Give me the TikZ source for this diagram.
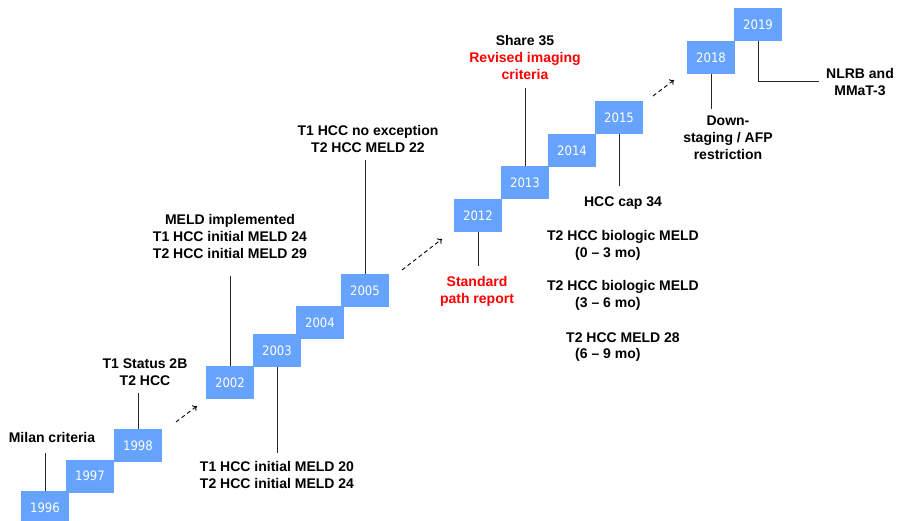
\documentclass[tikz,border=0pt]{standalone}
\usepackage{fontspec}
\setmainfont{Liberation Sans}
\newfontfamily\yrfont{DejaVu Sans Condensed}
\usetikzlibrary{arrows.meta}
\definecolor{boxblue}{RGB}{102,163,255}
\definecolor{txtred}{RGB}{255,0,0}
\tikzset{
  yr/.style={fill=boxblue, draw=none, minimum width=48pt, minimum height=33pt, inner sep=0pt,
    text=white, font=\yrfont\fontsize{13}{15}\selectfont},
  lbl/.style={align=center, inner sep=0pt, font=\bfseries\fontsize{14}{17}\selectfont},
  lblw/.style={anchor=west, inner sep=0pt, font=\bfseries\fontsize{14}{17}\selectfont},
  ln/.style={draw=black!85, line width=0.8pt},
  dasharr/.style={draw=black, line width=0.9pt, dash pattern=on 4pt off 3pt, -{To[length=4pt,width=7pt]}}
}
\begin{document}
\begin{tikzpicture}[x=1pt,y=-1pt]
\useasboundingbox (0,0) rectangle (902,520);
% year boxes
\node[yr] (y1996) at (45,507.5) {1996};
\node[yr] (y1997) at (90,476) {1997};
\node[yr] (y1998) at (138,445.5) {1998};
\node[yr] (y2002) at (230,382.5) {2002};
\node[yr] (y2003) at (277,350.5) {2003};
\node[yr] (y2004) at (320,322.5) {2004};
\node[yr] (y2005) at (365,290.5) {2005};
\node[yr] (y2012) at (478,215.5) {2012};
\node[yr] (y2013) at (525,182.5) {2013};
\node[yr] (y2014) at (572,150.5) {2014};
\node[yr] (y2015) at (619,117.5) {2015};
\node[yr] (y2018) at (711,57.5) {2018};
\node[yr] (y2019) at (758,24.5) {2019};
% labels
\node[lbl] (l1996) at (52,437) {Milan criteria};
\node[lbl] (l1998) at (145,372.5) {T1 Status 2B\\T2 HCC};
\node[lbl] (l2002) at (230,236) {MELD implemented\\T1 HCC initial MELD 24\\T2 HCC initial MELD 29};
\node[lbl] (l2003) at (277,475) {T1 HCC initial MELD 20\\T2 HCC initial MELD 24};
\node[lbl] (l2005) at (368,138.5) {T1 HCC no exception\\T2 HCC MELD 22};
\node[lbl, text=txtred] (l2012) at (477,291.5) {Standard\\path report};
\node[lbl] (l2013) at (525,57) {Share 35\\\textcolor{txtred}{Revised imaging}\\\textcolor{txtred}{criteria}};
\node[lbl] (l2015) at (623,203) {HCC cap 34};
\node[lbl] (m1) at (623,237) {T2 HCC biologic MELD};
\node[lblw] (m1b) at (575,254) {(0 -- 3 mo)};
\node[lbl] (m2) at (623,287) {T2 HCC biologic MELD};
\node[lblw] (m2b) at (575,304) {(3 -- 6 mo)};
\node[lbl] (m3) at (623,338) {T2 HCC MELD 28};
\node[lblw] (m3b) at (575,355) {(6 -- 9 mo)};
\node[lbl] (l2018) at (728,138) {Down-\\staging / AFP\\restriction};
\node[lbl] (l2019) at (860,82) {NLRB and\\MMaT-3};
% connector ends
\coordinate (e1996) at (45,453);
\coordinate (e1998) at (138,393);
\coordinate (e2002) at (230,276);
\coordinate (e2003) at (277,453);
\coordinate (e2005) at (365,160);
\coordinate (e2012) at (478,266);
\coordinate (e2013) at (525,88);
\coordinate (e2015) at (619,186);
\coordinate (e2018) at (711,109);
\coordinate (k2019) at (758,81);
\coordinate (e2019) at (819,81);
\draw[ln] (y1996.north) -- (e1996);
\draw[ln] (y1998.north) -- (e1998);
\draw[ln] (y2002.north) -- (e2002);
\draw[ln] (y2003.south) -- (e2003);
\draw[ln] (y2005.north) -- (e2005);
\draw[ln] (y2012.south) -- (e2012);
\draw[ln] (y2013.north) -- (e2013);
\draw[ln] (y2015.south) -- (e2015);
\draw[ln] (y2018.south) -- (e2018);
\draw[ln] (y2019.south) -- (k2019) -- (e2019);
% dashed arrows
\coordinate (a1s) at (176,422); \coordinate (a1e) at (197,406);
\coordinate (a2s) at (402,270); \coordinate (a2e) at (442,239);
\coordinate (a3s) at (653,96); \coordinate (a3e) at (674,80);
\draw[dasharr] (a1s) -- (a1e);
\draw[dasharr] (a2s) -- (a2e);
\draw[dasharr] (a3s) -- (a3e);
\end{tikzpicture}
\end{document}
